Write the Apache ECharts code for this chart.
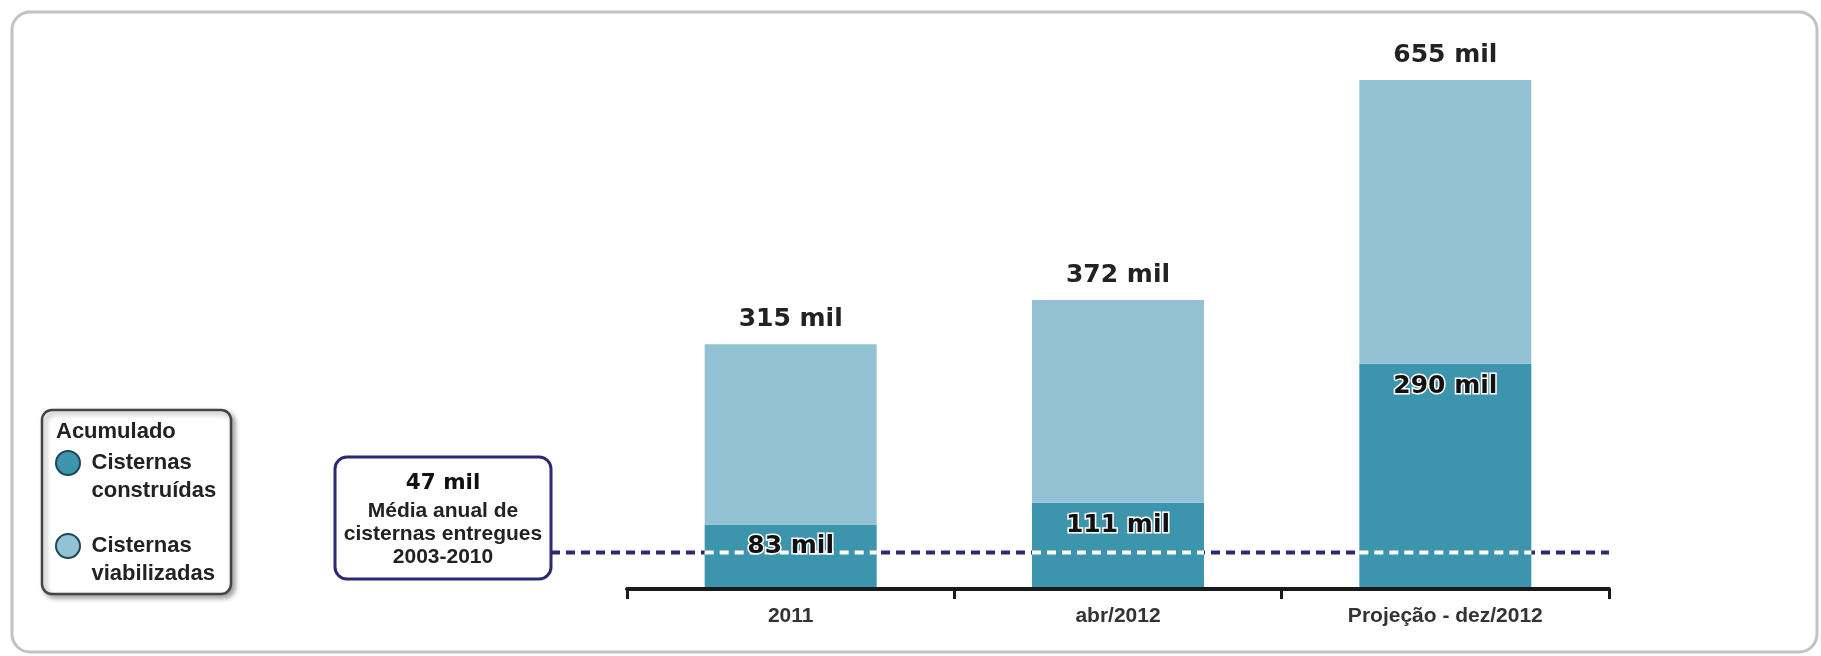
<!DOCTYPE html>
<html>
<head>
<meta charset="utf-8">
<script src="https://cdn.jsdelivr.net/npm/echarts@6/dist/echarts.min.js"></script>
<style>
html,body{margin:0;padding:0;background:#fff;}
#chart{width:1821px;height:656px;}
</style>
</head>
<body>
<div id="chart"></div>
<script>
// ---- data ----
const categories = ['2011', 'abr/2012', 'Projeção - dez/2012'];
const construidas = [83, 111, 290];          // Cisternas construídas (acumulado, mil)
const totais = [315, 372, 655];              // Cisternas viabilizadas (acumulado total, mil)
const viabilizadasExtra = [232, 261, 365];   // parte viabilizada acima das construídas (totais - construídas)
const mediaAnual = 47;                       // Média anual 2003-2010 (mil)
const mediaLine = [[0, 47], [1, 47]];
const seriesNames = ['Cisternas construídas', 'Cisternas viabilizadas'];

const DARK = '#3d95ad';
const LIGHT = '#92c2d4';
const NAVY = '#2b2876';

const chart = echarts.init(document.getElementById('chart'), null, {renderer: 'canvas'});

const bigLabelFont = {fontFamily: 'DejaVu Sans', fontWeight: 'bold', fontSize: 25};

const option = {
  backgroundColor: '#ffffff',
  animation: false,
  grid: [
    {left: 627, right: 212, top: 45, bottom: 67},
    {left: 551, right: 212, top: 45, bottom: 67}
  ],
  xAxis: [
    {
      type: 'category', gridIndex: 0, data: categories, boundaryGap: true, z: 5,
      axisLine: {show: true, lineStyle: {color: '#1a1a1a', width: 4}},
      axisTick: {show: true, length: 10, lineStyle: {color: '#1a1a1a', width: 3}},
      axisLabel: {fontFamily: 'Liberation Sans', fontWeight: 'bold', fontSize: 21, color: '#333', margin: 17}
    },
    {type: 'value', gridIndex: 1, min: 0, max: 1, show: false}
  ],
  yAxis: [
    {type: 'value', gridIndex: 0, min: 0, max: 700, show: false, splitLine: {show: false}},
    {type: 'value', gridIndex: 1, min: 0, max: 700, show: false, splitLine: {show: false}}
  ],
  legend: {
    data: seriesNames,
    orient: 'vertical',
    left: 55, top: 421, padding: 0,
    itemWidth: 37, itemHeight: 24, itemGap: -1,
    icon: 'circle',
    itemStyle: {borderColor: '#1f4656', borderWidth: 2},
    formatter: function (name) { return '\n' + name.replace(' ', '\n'); },
    textStyle: {
      fontFamily: 'Liberation Sans', fontWeight: 'bold', fontSize: 22, color: '#222',
      lineHeight: 28
    },
    selectedMode: false
  },
  graphic: [
    {
      type: 'rect', z: -10, silent: true,
      shape: {x: 12, y: 12, width: 1805, height: 640, r: 18},
      style: {fill: '#ffffff', stroke: '#c2c2c2', lineWidth: 3}
    },
    {
      type: 'rect', z: 0, silent: true,
      shape: {x: 42, y: 410, width: 189, height: 184, r: 10},
      style: {fill: '#ffffff', stroke: '#444444', lineWidth: 2.5,
              shadowBlur: 5, shadowOffsetX: 3, shadowOffsetY: 3, shadowColor: 'rgba(0,0,0,0.35)'}
    },
    {
      type: 'text', z: 5, silent: true, left: 56, top: 421,
      style: {text: 'Acumulado', font: 'bold 22px "Liberation Sans"', fill: '#222'}
    },
    {
      type: 'rect', z: 5, silent: true,
      shape: {x: 335, y: 457, width: 216, height: 122, r: 12},
      style: {fill: '#ffffff', stroke: NAVY, lineWidth: 3}
    },
    {
      type: 'text', z: 6, silent: true, x: 443, y: 483,
      style: {text: mediaAnual + ' mil', font: 'bold 21.5px "DejaVu Sans"', fill: '#111',
              textAlign: 'center', textVerticalAlign: 'middle'}
    },
    {
      type: 'text', z: 6, silent: true, x: 443, y: 534,
      style: {text: 'Média anual de\ncisternas entregues\n2003-2010', font: 'bold 21px "Liberation Sans"',
              fill: '#222', textAlign: 'center', textVerticalAlign: 'middle', lineHeight: 23}
    }
  ],
  series: [
    {
      name: seriesNames[0], type: 'bar', stack: 'total', xAxisIndex: 0, yAxisIndex: 0,
      data: construidas, barWidth: 172, z: 2,
      itemStyle: {color: DARK}
    },
    {
      name: seriesNames[1], type: 'bar', stack: 'total', xAxisIndex: 0, yAxisIndex: 0,
      data: viabilizadasExtra, barWidth: 172, z: 2,
      itemStyle: {color: LIGHT},
      label: {
        show: true, position: 'top', distance: 12,
        formatter: function (p) { return totais[p.dataIndex] + ' mil'; },
        ...bigLabelFont, color: '#222'
      }
    },
    {
      name: 'Média', type: 'line', xAxisIndex: 1, yAxisIndex: 1, z: 1,
      data: mediaLine, symbol: 'none', silent: true,
      lineStyle: {color: NAVY, width: 4, type: [9, 6]}
    },
    {
      // white dashes of the average line across each bar + labels of built cisterns
      name: 'Média sobre barras', type: 'custom', xAxisIndex: 0, yAxisIndex: 0, z: 4, silent: true,
      data: categories.map(function (c, i) { return [i, mediaAnual, construidas[i]]; }),
      renderItem: function (params, api) {
        const pt = api.coord([api.value(0), api.value(1)]);
        const topPt = api.coord([api.value(0), api.value(2)]);
        const half = 86;
        return {
          type: 'group',
          children: [
            {
              type: 'line', z2: 1,
              shape: {x1: pt[0] - half, y1: pt[1], x2: pt[0] + half, y2: pt[1]},
              style: {stroke: '#ffffff', lineWidth: 4, lineDash: [9, 6]}
            },
            {
              type: 'text', z2: 2,
              style: {
                text: api.value(2) + ' mil', x: topPt[0], y: topPt[1] + 10,
                align: 'center', verticalAlign: 'top',
                font: 'bold 25px "DejaVu Sans"', fill: '#111',
                stroke: '#ffffff', lineWidth: 3
              }
            }
          ]
        };
      }
    }
  ]
};
chart.setOption(option);
</script>
</body>
</html>
